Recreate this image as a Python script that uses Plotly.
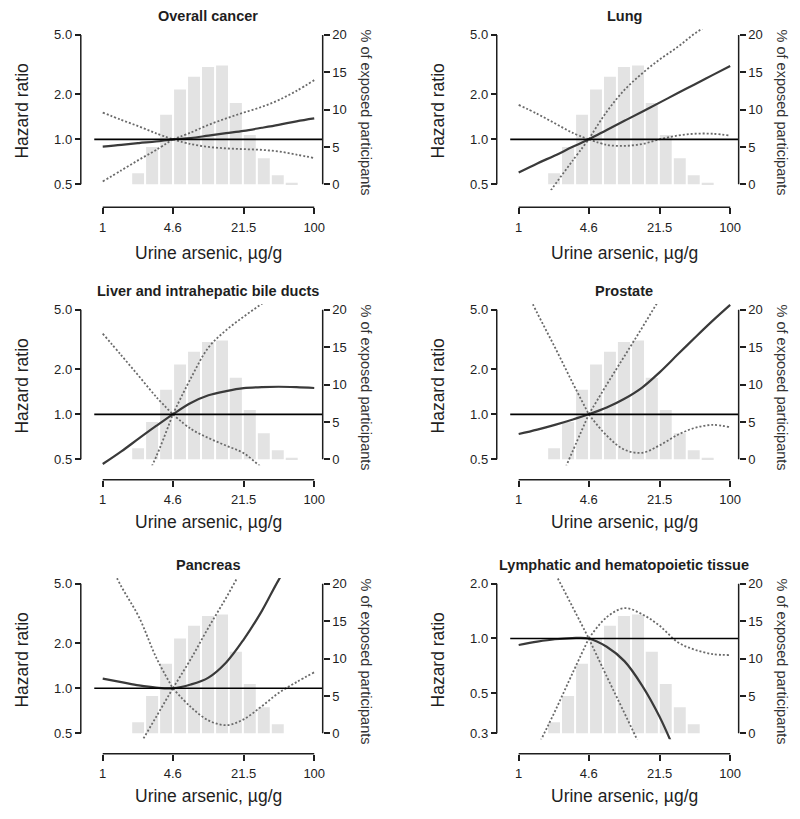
import numpy as np
import plotly.graph_objects as go

W, H = 800, 819
FONT = "Liberation Sans, Arial, Helvetica, sans-serif"
INK = "#1e1e1e"

panel_titles = ["Overall cancer", "Lung", "Liver and intrahepatic bile ducts",
                "Prostate", "Pancreas", "Lymphatic and hematopoietic tissue"]
x_label = "Urine arsenic, µg/g"
y_label = "Hazard ratio"
y2_label = "% of exposed participants"

# exposure grid (µg/g) at which curves were read
ux = [1, 1.5, 2.2, 3.2, 4.6, 6.8, 10, 14.7, 21.5, 32, 46, 68, 100]
REF = 4  # index of the reference level 4.6

x_ticks = [1, 4.6, 21.5, 100]
hr_ticks = [[0.5, 1.0, 2.0, 5.0]] * 5 + [[0.3, 0.5, 1.0, 2.0]]
pct_ticks = [0, 5, 10, 15, 20]

# histogram of exposure (bin edges in µg/g, % of participants)
bin_lo = [1.90, 2.57, 3.49, 4.73, 6.41, 8.68, 11.8, 15.9, 21.6, 29.3, 39.7, 53.8]
bin_hi = [2.46, 3.34, 4.52, 6.13, 8.31, 11.3, 15.3, 20.7, 28.0, 38.0, 51.5, 69.8]
pct = [1.47, 5.0, 9.3, 12.7, 14.4, 15.7, 15.9, 10.9, 6.6, 3.5, 1.2, 0.2]
n_bars = [12, 12, 12, 12, 11, 11]

# hazard ratio estimates and 95% CI bounds
hr_overall = [0.895, 0.918, 0.944, 0.967, 1.0, 1.02, 1.06, 1.10, 1.14, 1.195, 1.25, 1.32, 1.38]
up_overall = [1.51, 1.35, 1.22, 1.097, 1.0, 1.11, 1.25, 1.38, 1.51, 1.65, 1.83, 2.11, 2.49]
lo_overall = [0.523, 0.62, 0.73, 0.85, 1.0, 0.93, 0.89, 0.87, 0.86, 0.85, 0.83, 0.79, 0.75]

hr_lung = [0.60, 0.69, 0.78, 0.887, 1.0, 1.155, 1.33, 1.53, 1.76, 2.04, 2.33, 2.69, 3.1]
up_lung = [1.70, 1.48, 1.28, 1.11, 1.0, 1.53, 2.14, 2.76, 3.42, 4.16, 5.09, 6.1, 7.3]
lo_lung = [0.225, 0.339, 0.497, 0.712, 1.0, 0.919, 0.904, 0.93, 1.0, 1.06, 1.09, 1.09, 1.06]

hr_liver = [0.465, 0.565, 0.69, 0.836, 1.0, 1.19, 1.34, 1.43, 1.497, 1.52, 1.53, 1.52, 1.50]
up_liver = [3.47, 2.48, 1.80, 1.31, 1.0, 1.74, 2.8, 3.66, 4.5, 5.5, 6.6, 8.1, 9.9]
lo_liver = [0.11, 0.18, 0.30, 0.52, 1.0, 0.80, 0.694, 0.617, 0.55, 0.44, 0.37, 0.31, 0.26]

hr_prostate = [0.738, 0.79, 0.85, 0.92, 1.0, 1.11, 1.27, 1.51, 1.91, 2.52, 3.24, 4.22, 5.4]
up_prostate = [8.5, 4.75, 2.81, 1.65, 1.0, 1.58, 2.45, 3.8, 5.9, 9.0, 13, 19, 27]
lo_prostate = [0.1, 0.18, 0.304, 0.556, 1.0, 0.72, 0.58, 0.553, 0.62, 0.73, 0.81, 0.85, 0.82]

hr_pancreas = [1.16, 1.10, 1.045, 1.01, 1.0, 1.06, 1.18, 1.49, 2.12, 3.3, 5.3, 8.2, 12.5]
up_pancreas = [8.5, 4.8, 3.0, 1.61, 1.0, 1.57, 2.55, 4.04, 6.5, 10, 15, 22, 32]
lo_pancreas = [0.16, 0.26, 0.41, 0.644, 1.0, 0.75, 0.61, 0.567, 0.62, 0.76, 0.93, 1.1, 1.28]

hr_lymph = [0.92, 0.96, 0.99, 1.005, 1.0, 0.90, 0.75, 0.55, 0.37, 0.22, 0.13, 0.07, 0.035]
up_lymph = [5.5, 3.5, 2.3, 1.51, 1.0, 1.31, 1.47, 1.36, 1.175, 0.953, 0.868, 0.82, 0.81]
lo_lymph = [0.15, 0.25, 0.396, 0.636, 1.0, 0.618, 0.388, 0.242, 0.15, 0.09, 0.06, 0.04, 0.025]

curves = [
    (hr_overall, lo_overall, up_overall),
    (hr_lung, lo_lung, up_lung),
    (hr_liver, lo_liver, up_liver),
    (hr_prostate, lo_prostate, up_prostate),
    (hr_pancreas, lo_pancreas, up_pancreas),
    (hr_lymph, lo_lymph, up_lymph),
]

# panel placement (pixels)
col_dx = [0, 417]
row_dy = [0, 276, 551]
xaxis_y = [207, 204.5, 204.5]
xtitle_y = [253, 247, 247]

fig = go.Figure()
layout = {}
shapes = []
annotations = []

tickfont = dict(size=13, color=INK, family=FONT)
common_axis = dict(ticks="outside", ticklen=6, tickwidth=1.5, tickcolor=INK,
                   showline=False, showgrid=False, zeroline=False, tickfont=tickfont,
                   fixedrange=True)

for i in range(6):
    col, row = i % 2, i // 2
    dx, dy = col_dx[col], row_dy[row]
    xn, yp, yh = i + 1, 2 * i + 1, 2 * i + 2
    xid = "x" if xn == 1 else f"x{xn}"
    yp_id = "y" if yp == 1 else f"y{yp}"
    yh_id = f"y{yh}"
    xkey = "xaxis" if xn == 1 else f"xaxis{xn}"
    ypkey = "yaxis" if yp == 1 else f"yaxis{yp}"
    yhkey = f"yaxis{yh}"

    xdom = [(94.5 + dx) / W, (323.5 + dx) / W]
    ydom = [1 - (190 + dy) / H, 1 - (28 + dy) / H]
    ticks = hr_ticks[i]
    span = np.log10(ticks[-1] / ticks[0])
    xspan = np.log10(x_ticks[-1] / x_ticks[0])
    pspan = pct_ticks[-1] - pct_ticks[0]
    xpos = 1 - (xaxis_y[row] + dy) / H

    layout[xkey] = dict(type="log", domain=xdom,
                        range=[np.log10(x_ticks[0]) - 0.04 * xspan, np.log10(x_ticks[-1]) + 0.04 * xspan],
                        anchor="free", position=xpos, ticklabelstandoff=2,
                        tickvals=x_ticks, ticktext=[f"{v:g}" for v in x_ticks], **common_axis)
    layout[ypkey] = dict(domain=ydom, range=[pct_ticks[0] - 0.04 * pspan, pct_ticks[-1] + 0.04 * pspan],
                         anchor="free", position=xdom[1], side="right",
                         tickvals=pct_ticks, ticktext=[str(v) for v in pct_ticks], **common_axis)
    layout[yhkey] = dict(type="log", domain=ydom,
                         range=[np.log10(ticks[0]) - 0.04 * span, np.log10(ticks[-1]) + 0.04 * span],
                         overlaying=yp_id, anchor="free", position=(81 + dx) / W, side="left",
                         tickvals=ticks, ticktext=[f"{v:.1f}" for v in ticks], **common_axis)

    nb = n_bars[i]
    fig.add_trace(go.Bar(x=bin_lo[:nb], y=pct[:nb],
                         width=[h - l for l, h in zip(bin_lo[:nb], bin_hi[:nb])], offset=0,
                         marker=dict(color="#e3e3e3", line=dict(width=0)),
                         xaxis=xid, yaxis=yp_id, showlegend=False, hoverinfo="skip"))

    est, lo, up = curves[i]
    for ci in (lo, up):
        for seg in (slice(0, REF + 1), slice(REF, None)):
            fig.add_trace(go.Scatter(x=ux[seg], y=ci[seg], mode="lines",
                                     line=dict(color="#6a6a6a", width=1.8, dash="2px,2px", shape="spline"),
                                     xaxis=xid, yaxis=yh_id, showlegend=False, hoverinfo="skip"))
    fig.add_trace(go.Scatter(x=ux, y=est, mode="lines",
                             line=dict(color="#3a3a3a", width=2.2, shape="spline"),
                             xaxis=xid, yaxis=yh_id, showlegend=False, hoverinfo="skip"))

    # reference line HR = 1 across the plot region
    shapes.append(dict(type="line", xref=f"{xid} domain", x0=0, x1=1, yref=yh_id,
                       y0=1.0, y1=1.0, line=dict(color="black", width=1.6)))
    # axis lines spanning first to last tick
    shapes.append(dict(type="line", xref="paper", x0=(81 + dx) / W, x1=(81 + dx) / W, yref=yh_id,
                       y0=ticks[0], y1=ticks[-1], line=dict(color=INK, width=1.5)))
    shapes.append(dict(type="line", xref="paper", x0=xdom[1], x1=xdom[1], yref=yp_id,
                       y0=pct_ticks[0], y1=pct_ticks[-1], line=dict(color=INK, width=1.5)))
    shapes.append(dict(type="line", xref=xid, x0=x_ticks[0], x1=x_ticks[-1],
                       yref="paper", y0=xpos, y1=xpos, line=dict(color=INK, width=1.5)))

    annotations += [
        dict(text=f"<b>{panel_titles[i]}</b>", x=(209 + dx) / W, y=1 - (15 + dy) / H,
             font=dict(size=14.5, color=INK, family=FONT)),
        dict(text=y_label, x=(22 + dx) / W, y=1 - (110 + dy) / H, textangle=-90,
             font=dict(size=17.5, color=INK, family=FONT)),
        dict(text=y2_label, x=(367 + dx) / W, y=1 - (112 + dy) / H, textangle=90,
             font=dict(size=14.5, color="#333333", family=FONT)),
        dict(text=x_label, x=(209 + dx) / W, y=1 - (xtitle_y[row] + dy) / H,
             font=dict(size=17.5, color=INK, family=FONT)),
    ]

for a in annotations:
    a.update(xref="paper", yref="paper", showarrow=False, xanchor="center", yanchor="middle")

fig.update_layout(width=W, height=H, margin=dict(l=0, r=0, t=0, b=0),
                  paper_bgcolor="white", plot_bgcolor="rgba(0,0,0,0)",
                  shapes=shapes, annotations=annotations, showlegend=False,
                  font=dict(family=FONT, color=INK), barmode="overlay", **layout)

fig.write_html("out.html", config={"displayModeBar": False},
               post_script="document.body.style.margin='0px';document.body.style.overflow='hidden';")
